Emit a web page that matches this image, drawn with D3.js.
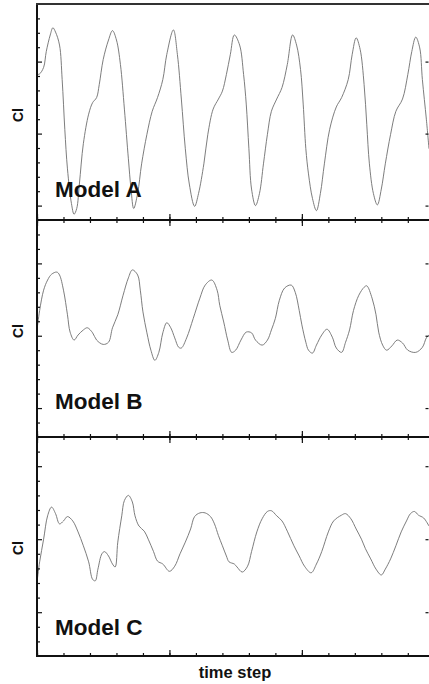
<!DOCTYPE html>
<html>
<head>
<meta charset="utf-8">
<script src="https://cdn.jsdelivr.net/npm/d3@7"></script>
<style>
  html, body { margin: 0; padding: 0; background: #fff; }
  svg { display: block; }
  text { font-family: "Liberation Sans", Arial, sans-serif; font-weight: bold; fill: #111; }
</style>
</head>
<body>
<svg id="chart"></svg>
<script>
// data: [time step, Cl] (arbitrary units, one major tick = 1)
const modelA = [[0,1.82],[2,1.83],[5,1.92],[7,2.14],[10,2.37],[12,2.47],[14,2.41],[17,2.23],[19,1.75],[21,1.06],[23,0.51],[26,0.03],[28,-0.12],[30,-0.04],[32,0.30],[35,0.86],[39,1.27],[42,1.43],[45,1.50],[47,1.68],[50,2.03],[54,2.30],[57,2.43],[60,2.30],[63,1.96],[66,1.34],[69,0.65],[71,0.23],[73,-0.04],[76,0.17],[79,0.58],[83,0.99],[87,1.31],[91,1.50],[95,1.75],[98,2.10],[103,2.44],[106,2.10],[109,1.48],[112,0.79],[115,0.30],[119,-0.01],[122,0.17],[126,0.58],[129,0.99],[133,1.34],[137,1.48],[140,1.59],[143,1.82],[146,2.10],[149,2.37],[153,2.23],[156,1.82],[158,1.41],[160,0.79],[162,0.23],[165,0],[168,0.17],[171,0.58],[174,0.99],[177,1.31],[181,1.48],[185,1.64],[189,1.96],[193,2.37],[196,2.23],[199,1.89],[201,1.41],[203,0.79],[205,0.44],[208,0.10],[211,-0.07],[214,0.17],[217,0.58],[221,1.06],[226,1.37],[230,1.50],[235,1.75],[238,2.10],[241,2.33],[244,2.17],[247,1.68],[249,1.13],[251,0.58],[254,0.17],[257,0.01],[260,0.23],[263,0.58],[267,0.99],[271,1.31],[276,1.48],[280,1.82],[283,2.14],[286,2.34],[289,2.19],[291,1.75],[294,1.20],[296,0.79]];

const modelB = [[0,1.08],[2,1.35],[5,1.63],[8,1.77],[11,1.85],[15,1.88],[17,1.84],[20,1.63],[23,1.29],[25,1.05],[28,0.94],[31,1.01],[35,1.08],[38,1.11],[42,1.04],[45,0.94],[50,0.88],[54,0.91],[57,1.11],[61,1.29],[65,1.56],[69,1.80],[72,1.91],[76,1.84],[78,1.63],[80,1.33],[83,1.04],[86,0.80],[89,0.66],[92,0.77],[95,1.04],[98,1.18],[101,1.11],[104,0.97],[107,0.84],[109,0.83],[113,0.97],[118,1.24],[123,1.52],[127,1.70],[132,1.77],[136,1.63],[138,1.42],[141,1.19],[144,0.94],[147,0.77],[150,0.80],[154,0.94],[158,1.05],[162,1.04],[165,0.94],[170,0.87],[174,0.94],[177,1.08],[180,1.24],[183,1.49],[187,1.66],[192,1.70],[195,1.60],[198,1.35],[200,1.15],[203,0.91],[205,0.80],[208,0.76],[211,0.87],[215,1.01],[219,1.09],[223,0.98],[226,0.83],[230,0.77],[233,0.91],[236,1.08],[239,1.35],[243,1.56],[247,1.67],[249,1.69],[253,1.52],[256,1.29],[258,1.05],[261,0.87],[264,0.80],[268,0.86],[272,0.94],[276,0.90],[280,0.80],[286,0.77],[291,0.84],[294,0.97],[296,1.01]];

const modelC = [[0,0.41],[2,0.69],[5,1.00],[8,1.32],[11,1.44],[14,1.35],[17,1.21],[20,1.25],[23,1.31],[27,1.25],[31,1.10],[35,0.91],[39,0.69],[42,0.45],[44,0.43],[46,0.59],[49,0.80],[51,0.83],[54,0.77],[57,0.66],[59,0.62],[61,0.96],[64,1.32],[66,1.53],[69,1.60],[72,1.51],[74,1.32],[77,1.18],[81,1.11],[84,1.00],[88,0.83],[91,0.70],[95,0.66],[100,0.56],[104,0.63],[108,0.80],[112,0.96],[116,1.14],[119,1.31],[123,1.36],[127,1.36],[131,1.31],[134,1.21],[137,1.05],[140,0.91],[143,0.77],[145,0.69],[149,0.66],[151,0.62],[155,0.55],[159,0.63],[162,0.83],[166,1.10],[170,1.28],[174,1.38],[177,1.39],[181,1.32],[185,1.25],[189,1.11],[194,0.91],[198,0.77],[202,0.63],[207,0.54],[211,0.66],[215,0.83],[220,1.10],[224,1.25],[230,1.33],[233,1.35],[237,1.28],[241,1.14],[245,1.00],[248,0.87],[252,0.73],[256,0.59],[260,0.51],[263,0.59],[267,0.73],[271,0.91],[275,1.10],[279,1.25],[282,1.35],[285,1.38],[288,1.33],[292,1.29],[296,1.18]];

const panelNames = ['Model A', 'Model B', 'Model C'];
const clDomains = [[-0.2, 2.8], [-0.4, 2.6], [-0.6, 2.4]];
const clMajorTicks = [0, 1, 2];
const clMinorStep = 0.2;
const timeDomain = [0, 296];
const timeMinorTicks = d3.range(0, 297, 20);
const timeMajorTicks = [0, 100, 200];
const yLabel = 'Cl';
const xLabel = 'time step';

// layout
const width = 429, height = 684;
const left = 37, right = 429;
const panelTops = [4, 220, 437];
const panelBottoms = [220, 437, 656];
const nameBaselines = [197, 409, 635];
const ink = '#111';

const svg = d3.select('#chart').attr('width', width).attr('height', height);

const x = d3.scaleLinear().domain(timeDomain).range([left, right]);

const line = d3.line()
    .x(d => x(d[0]))
    .y(d => d[1])
    .curve(d3.curveCatmullRom.alpha(0.5));

const series = [modelA, modelB, modelC];

series.forEach((data, i) => {
  let top = panelTops[i], bottom = panelBottoms[i];
  let y = d3.scaleLinear().domain(clDomains[i]).range([bottom, top]);
  let g = svg.append('g');

  let minor = d3.range(clDomains[i][0] + clMinorStep, clDomains[i][1] - 1e-6, clMinorStep)
      .map(v => +v.toFixed(2))
      .filter(v => !clMajorTicks.includes(v));

  // curve
  g.append('path')
      .datum(data.map(d => [d[0], y(d[1])]))
      .attr('d', line)
      .attr('fill', 'none')
      .attr('stroke', '#6e6e6e')
      .attr('stroke-width', 0.9);

  // left ticks (inward)
  g.append('g')
      .attr('transform', `translate(${left},0)`)
      .call(d3.axisLeft(y).tickValues(minor).tickSize(-3).tickFormat(''))
      .call(a => a.select('.domain').remove());
  g.append('g')
      .attr('transform', `translate(${left},0)`)
      .call(d3.axisLeft(y).tickValues(clMajorTicks).tickSize(-5).tickFormat(''))
      .call(a => a.select('.domain').remove());

  // right ticks (major only)
  g.append('g')
      .attr('transform', `translate(${right - 0.5},0)`)
      .call(d3.axisRight(y).tickValues(clMajorTicks).tickSize(-3).tickFormat(''))
      .call(a => a.select('.domain').remove());

  // bottom ticks pointing up
  g.append('g')
      .attr('transform', `translate(0,${bottom})`)
      .call(d3.axisBottom(x).tickValues(timeMinorTicks).tickSize(-3).tickFormat(''))
      .call(a => a.select('.domain').remove());
  g.append('g')
      .attr('transform', `translate(0,${bottom})`)
      .call(d3.axisBottom(x).tickValues(timeMajorTicks).tickSize(-6).tickFormat(''))
      .call(a => a.select('.domain').remove());

  // top ticks pointing down (not on the first panel)
  if (i > 0) {
    g.append('g')
        .attr('transform', `translate(0,${top})`)
        .call(d3.axisTop(x).tickValues(timeMinorTicks).tickSize(-3).tickFormat(''))
        .call(a => a.select('.domain').remove());
    g.append('g')
        .attr('transform', `translate(0,${top})`)
        .call(d3.axisTop(x).tickValues(timeMajorTicks).tickSize(-6).tickFormat(''))
        .call(a => a.select('.domain').remove());
  }

  g.selectAll('.tick line').attr('stroke', ink).attr('stroke-width', 1.2);

  // panel frame: left edge and bottom edge
  g.append('line')
      .attr('x1', left).attr('x2', left)
      .attr('y1', top).attr('y2', bottom)
      .attr('stroke', ink).attr('stroke-width', 2);
  g.append('line')
      .attr('x1', left - 1).attr('x2', right)
      .attr('y1', bottom).attr('y2', bottom)
      .attr('stroke', ink).attr('stroke-width', 2);
  if (i === 0) {
    g.append('line')
        .attr('x1', left - 1).attr('x2', right)
        .attr('y1', top).attr('y2', top)
        .attr('stroke', '#333').attr('stroke-width', 2);
  }

  // y label
  g.append('text')
      .attr('transform', `translate(23,${top + 111}) rotate(-90)`)
      .attr('text-anchor', 'middle')
      .style('font-size', '14px')
      .text(yLabel);

  // model name
  g.append('text')
      .attr('x', 55)
      .attr('y', nameBaselines[i])
      .style('font-size', '22.5px')
      .text(panelNames[i]);
});

svg.append('text')
    .attr('x', 235)
    .attr('y', 678)
    .attr('text-anchor', 'middle')
    .style('font-size', '16.5px')
    .text(xLabel);
</script>
</body>
</html>
